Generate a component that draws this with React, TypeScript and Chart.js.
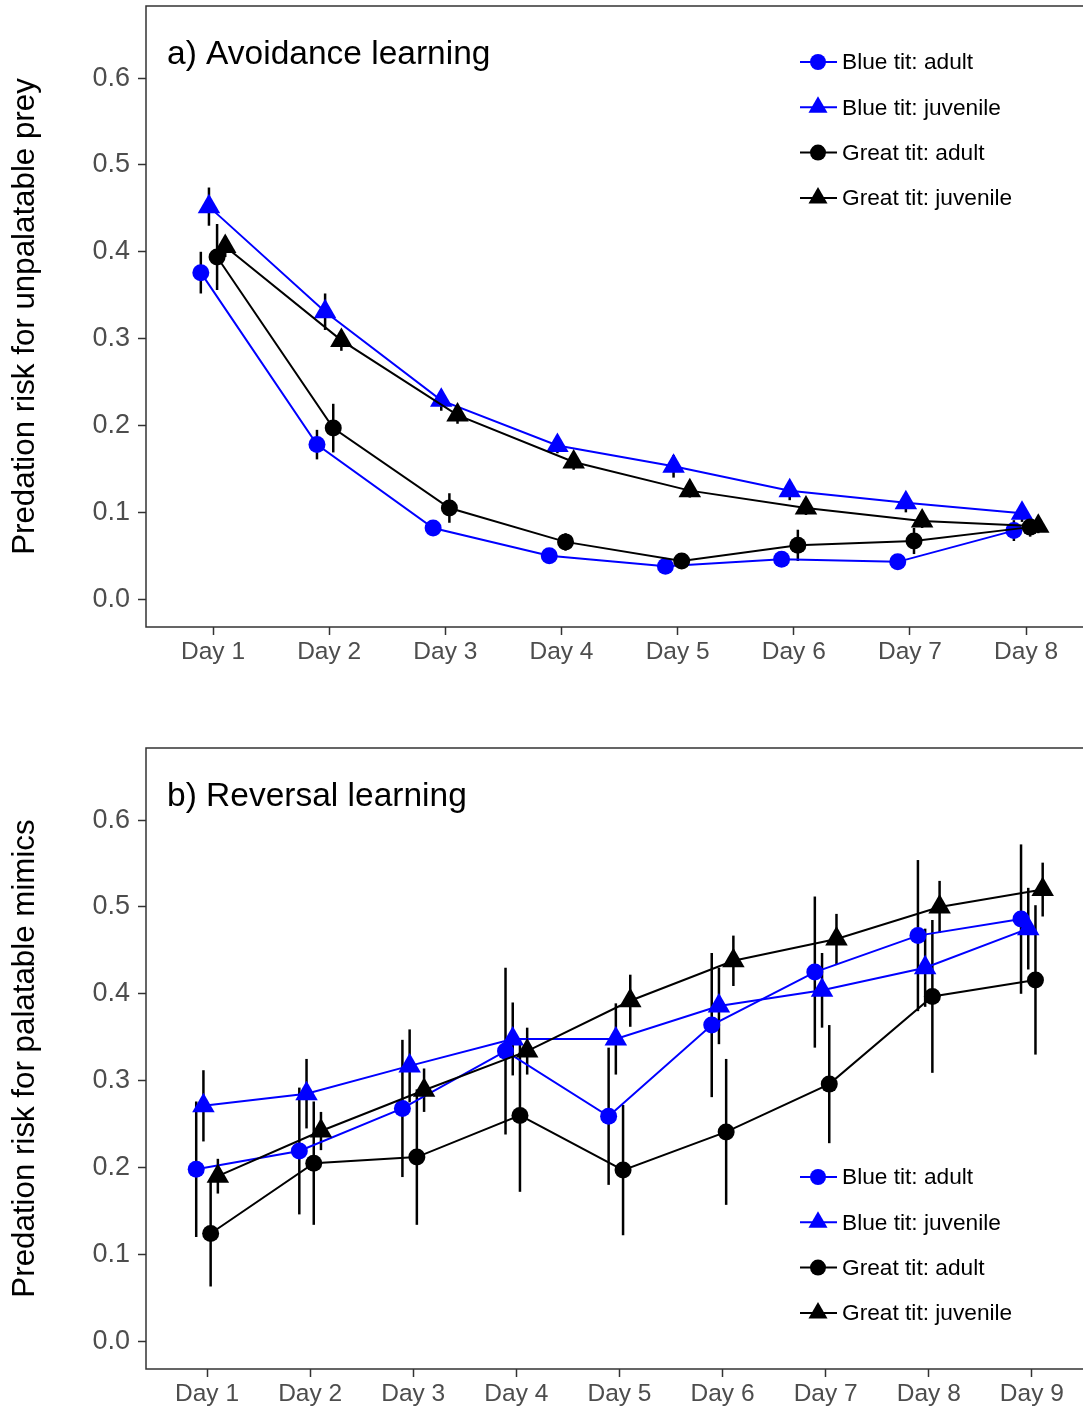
import React, { useEffect, useRef } from 'react';
import { Chart, registerables } from 'chart.js';

Chart.register(...registerables);

const FONT = '"Liberation Sans", Arial, Helvetica, sans-serif';

// ---------- data ----------
const seriesNames = ['Blue tit: adult', 'Blue tit: juvenile', 'Great tit: adult', 'Great tit: juvenile'];

const daysA = ['Day 1', 'Day 2', 'Day 3', 'Day 4', 'Day 5', 'Day 6', 'Day 7', 'Day 8'];
const blueAdultA = [0.376, 0.178, 0.082, 0.050, 0.038, 0.046, 0.043, 0.079];
const blueAdultSeA = [0.024, 0.017, 0.006, 0.005, 0.004, 0.005, 0.005, 0.012];
const blueJuvA = [0.452, 0.331, 0.229, 0.177, 0.153, 0.125, 0.111, 0.099];
const blueJuvSeA = [0.022, 0.021, 0.012, 0.009, 0.013, 0.011, 0.011, 0.010];
const greatAdultA = [0.394, 0.197, 0.105, 0.066, 0.044, 0.062, 0.067, 0.083];
const greatAdultSeA = [0.038, 0.028, 0.017, 0.010, 0.006, 0.018, 0.015, 0.011];
const greatJuvA = [0.406, 0.298, 0.212, 0.158, 0.125, 0.105, 0.090, 0.084];
const greatJuvSeA = [0.012, 0.012, 0.010, 0.009, 0.008, 0.008, 0.008, 0.008];

const daysB = ['Day 1', 'Day 2', 'Day 3', 'Day 4', 'Day 5', 'Day 6', 'Day 7', 'Day 8', 'Day 9'];
const blueAdultB = [0.198, 0.219, 0.268, 0.334, 0.259, 0.364, 0.425, 0.467, 0.486];
const blueAdultSeB = [0.078, 0.073, 0.079, 0.096, 0.079, 0.083, 0.087, 0.087, 0.086];
const blueJuvB = [0.271, 0.285, 0.317, 0.348, 0.348, 0.386, 0.404, 0.430, 0.475];
const blueJuvSeB = [0.041, 0.040, 0.042, 0.042, 0.041, 0.044, 0.043, 0.045, 0.047];
const greatAdultB = [0.124, 0.205, 0.212, 0.260, 0.197, 0.241, 0.296, 0.397, 0.416];
const greatAdultSeB = [0.061, 0.071, 0.078, 0.088, 0.075, 0.084, 0.068, 0.088, 0.086];
const greatJuvB = [0.190, 0.242, 0.289, 0.334, 0.392, 0.438, 0.463, 0.500, 0.520];
const greatJuvSeB = [0.020, 0.022, 0.025, 0.027, 0.030, 0.029, 0.029, 0.030, 0.031];

const yTickValues = [0.0, 0.1, 0.2, 0.3, 0.4, 0.5, 0.6];

// ---------- styles ----------
const seriesColors = ['#0000FF', '#0000FF', '#000000', '#000000'];
const seriesShapes = ['circle', 'triangle', 'circle', 'triangle'];
const markerRadius = [8.5, 13, 8.5, 13];
const legendRadius = [8, 11, 8, 11];
const dodge = [-0.105, -0.035, 0.035, 0.105];
const TICK_COLOR = '#4D4D4D';
const AXIS_COLOR = '#333333';

function drawMarker(ctx: CanvasRenderingContext2D, shape: string, x: number, y: number, r: number, color: string) {
  ctx.save();
  ctx.fillStyle = color;
  ctx.beginPath();
  if (shape === 'circle') {
    ctx.arc(x, y, r, 0, Math.PI * 2);
  } else {
    let rad = 0;
    ctx.moveTo(x + Math.sin(rad) * r, y - Math.cos(rad) * r);
    rad += (2 * Math.PI) / 3;
    ctx.lineTo(x + Math.sin(rad) * r, y - Math.cos(rad) * r);
    rad += (2 * Math.PI) / 3;
    ctx.lineTo(x + Math.sin(rad) * r, y - Math.cos(rad) * r);
    ctx.closePath();
  }
  ctx.fill();
  ctx.restore();
}

function zeroPadding(s: any) {
  s.paddingTop = 0;
  s.paddingBottom = 0;
  s.paddingLeft = 0;
  s.paddingRight = 0;
}

type PanelProps = {
  top: number;
  height: number;
  days: string[];
  values: number[][];
  errors: number[][];
  title: string;
  yTitle: string;
  xMin: number;
  xMax: number;
  legendOffset: number;
};

function Panel(p: PanelProps) {
  const ref = useRef<HTMLCanvasElement | null>(null);
  useEffect(() => {
    if (!ref.current) return;
    const xAxisHeight = p.height - 6 - 621;

    const datasets = p.values.map((vals, d) => ({
      label: seriesNames[d],
      data: vals.map((v, i) => ({ x: i + 1 + dodge[d], y: v })),
      borderColor: seriesColors[d],
      backgroundColor: seriesColors[d],
      borderWidth: 2,
      pointStyle: seriesShapes[d] as any,
      pointRadius: markerRadius[d],
      pointBackgroundColor: seriesColors[d],
      pointBorderWidth: 0,
      pointHoverRadius: markerRadius[d],
      tension: 0,
      fill: false,
      order: 4 - d,
    }));

    const panelPlugin = {
      id: 'panelDecor',
      beforeDatasetsDraw(chart: any) {
        const ctx = chart.ctx as CanvasRenderingContext2D;
        const xs = chart.scales.x;
        const ys = chart.scales.y;
        ctx.save();
        ctx.strokeStyle = '#000000';
        ctx.lineWidth = 2.5;
        p.values.forEach((vals, d) => {
          vals.forEach((v, i) => {
            const se = p.errors[d][i];
            const x = xs.getPixelForValue(i + 1 + dodge[d]);
            ctx.beginPath();
            ctx.moveTo(x, ys.getPixelForValue(v - se));
            ctx.lineTo(x, ys.getPixelForValue(v + se));
            ctx.stroke();
          });
        });
        ctx.restore();
      },
      afterDraw(chart: any) {
        const ctx = chart.ctx as CanvasRenderingContext2D;
        const ca = chart.chartArea;
        ctx.save();
        // panel border (right edge falls just outside the canvas, as in the cropped original)
        ctx.strokeStyle = AXIS_COLOR;
        ctx.lineWidth = 1.5;
        ctx.strokeRect(ca.left, ca.top, ca.right + 2 - ca.left, ca.bottom - ca.top);
        // panel title
        ctx.fillStyle = '#000000';
        ctx.font = `33.5px ${FONT}`;
        ctx.textBaseline = 'middle';
        ctx.textAlign = 'left';
        ctx.fillText(p.title, ca.left + 21, ca.top + 49);
        // legend
        const lx = ca.left + 654;
        seriesNames.forEach((name, d) => {
          const y = ca.top + p.legendOffset + d * 45.3;
          ctx.strokeStyle = seriesColors[d];
          ctx.lineWidth = 2;
          ctx.beginPath();
          ctx.moveTo(lx, y);
          ctx.lineTo(lx + 37, y);
          ctx.stroke();
          drawMarker(ctx, seriesShapes[d], lx + 18, y, legendRadius[d], seriesColors[d]);
          ctx.fillStyle = '#000000';
          ctx.font = `22.7px ${FONT}`;
          ctx.textBaseline = 'middle';
          ctx.fillText(name, lx + 42, y + 1);
        });
        ctx.restore();
      },
    };

    const chart = new Chart(ref.current, {
      type: 'line',
      data: { datasets: datasets as any },
      plugins: [panelPlugin],
      options: {
        animation: false,
        responsive: false,
        devicePixelRatio: 1,
        events: [],
        layout: { autoPadding: false, padding: { top: 6, left: 0, right: 0, bottom: 0 } },
        plugins: {
          legend: { display: false },
          tooltip: { enabled: false },
          title: { display: false },
        },
        scales: {
          x: {
            type: 'linear',
            min: p.xMin,
            max: p.xMax,
            afterBuildTicks: (s: any) => {
              s.ticks = p.days.map((_, i) => ({ value: i + 1 }));
            },
            afterFit: (s: any) => {
              s.height = xAxisHeight;
              zeroPadding(s);
            },
            ticks: {
              autoSkip: false,
              maxRotation: 0,
              minRotation: 0,
              padding: 3,
              color: TICK_COLOR,
              font: { family: FONT, size: 24.5 },
              callback: (v: any) => p.days[Math.round(Number(v)) - 1] ?? '',
            },
            grid: {
              drawOnChartArea: false,
              drawTicks: true,
              tickLength: 8,
              tickColor: AXIS_COLOR,
              tickWidth: 1.5,
            },
            border: { display: false },
          },
          y: {
            type: 'linear',
            min: -0.032,
            max: 0.683,
            afterBuildTicks: (s: any) => {
              s.ticks = yTickValues.map((v) => ({ value: v }));
            },
            afterFit: (s: any) => {
              s.width = 146;
              zeroPadding(s);
            },
            ticks: {
              padding: 8,
              color: TICK_COLOR,
              font: { family: FONT, size: 27 },
              callback: (v: any) => Number(v).toFixed(1),
            },
            grid: {
              drawOnChartArea: false,
              drawTicks: true,
              tickLength: 8,
              tickColor: AXIS_COLOR,
              tickWidth: 1.5,
            },
            border: { display: false },
            title: {
              display: true,
              text: p.yTitle,
              color: '#000000',
              font: { family: FONT, size: 31.3 },
              padding: { top: 7, bottom: 0 },
            },
          },
        },
      } as any,
    });
    return () => chart.destroy();
  }, []);

  return (
    <canvas
      ref={ref}
      width={1083}
      height={p.height}
      style={{ position: 'absolute', left: 0, top: p.top, width: 1083, height: p.height, display: 'block' }}
    />
  );
}

export default function App() {
  return (
    <div style={{ position: 'absolute', left: 0, top: 0, width: 1083, height: 1409, overflow: 'hidden', background: '#ffffff' }}>
      <Panel
        top={0}
        height={700}
        days={daysA}
        values={[blueAdultA, blueJuvA, greatAdultA, greatJuvA]}
        errors={[blueAdultSeA, blueJuvSeA, greatAdultSeA, greatJuvSeA]}
        title="a) Avoidance learning"
        yTitle="Predation risk for unpalatable prey"
        xMin={0.423}
        xMax={8.49}
        legendOffset={56}
      />
      <Panel
        top={742}
        height={667}
        days={daysB}
        values={[blueAdultB, blueJuvB, greatAdultB, greatJuvB]}
        errors={[blueAdultSeB, blueJuvSeB, greatAdultSeB, greatJuvSeB]}
        title="b) Reversal learning"
        yTitle="Predation risk for palatable mimics"
        xMin={0.408}
        xMax={9.496}
        legendOffset={429}
      />
    </div>
  );
}
